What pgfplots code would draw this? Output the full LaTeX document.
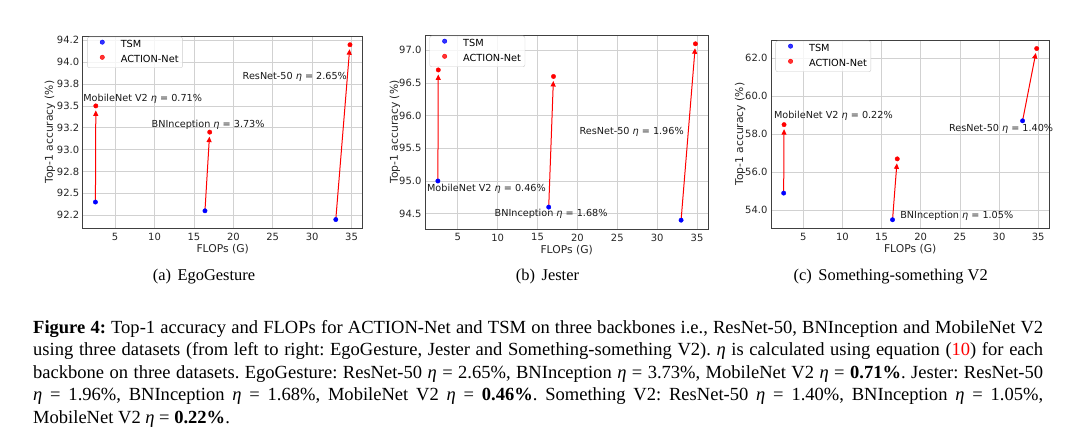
\documentclass[border=0pt]{standalone}
\usepackage{pgfplots}
\pgfplotsset{compat=1.18}
\usepackage{fontspec}
\setmainfont{Liberation Serif}
\newfontfamily\dejavu{DejaVu Sans}
\usetikzlibrary{arrows.meta}

\tikzset{ann/.style={font=\dejavu\fontsize{9.7}{11}\selectfont, inner sep=0pt, anchor=center, text=black!90}}
\pgfplotsset{
  myax/.style={
    scale only axis,
    clip=false,
    xmin=0.885, xmax=36.415,
    xtick={5,10,...,35},
    grid=major,
    major grid style={black!18, line width=0.7bp},
    axis line style={black!75, line width=0.8bp},
    major tick length=0pt,
    tick label style={font=\dejavu\fontsize{10}{12}\selectfont, text=black!85},
    /pgf/number format/assume math mode=true,
    xticklabel style={inner sep=0pt, anchor=north, yshift=-4.5bp},
    yticklabel style={inner sep=0pt, anchor=east, xshift=-3.4bp},
    label style={font=\dejavu\fontsize{10.8}{13}\selectfont, text=black!85},
    xlabel={FLOPs (G)},
    ylabel={Top-1 accuracy (\%)},
    xlabel style={at={(axis description cs:0.5,-0.11)}, anchor=center},
    legend style={at={(axis description cs:0.016,0.996)}, anchor=north west,
      draw=black!20, rounded corners=2bp, fill=white, fill opacity=0.8, text opacity=1, draw opacity=1,
      font=\dejavu\fontsize{9.8}{11}\selectfont, inner xsep=4bp, inner ysep=3bp,
      row sep=5.5bp,
      nodes={inner sep=0pt, text height=7.5bp, text depth=2bp}},
    legend cell align=left,
    legend image code/.code={\draw[##1] plot coordinates {(10.7bp,2.7bp)}; \path (0bp,0bp) (29bp,0bp);},
  },
  arr/.style={red, line width=1bp, -{Triangle[length=5.5bp,width=5bp]}, shorten >=4.5bp, forget plot},
  tsm/.style={only marks, mark=*, mark size=2.2bp, blue},
  act/.style={only marks, mark=*, mark size=2.2bp, red},
}

\begin{document}
\begin{tikzpicture}[x=1bp,y=1bp]
\useasboundingbox (0,0) rectangle (1080,442);

% ---------- (a) EgoGesture ----------
\begin{axis}[myax, at={(82.7bp,213.7bp)}, anchor=south west,
  width=280bp, height=192.3bp,
  ymin=92.1, ymax=94.3,
  ytick={92.25,92.5,92.75,93.0,93.25,93.5,93.75,94.0,94.25},
  yticklabels={92.2,92.5,92.8,93.0,93.2,93.5,93.8,94.0,94.2},
  ylabel style={at={(axis description cs:-0.117,0.5)}, anchor=center},
]
\addplot[arr] coordinates {(2.5,92.4) (2.55,93.5)};
\addplot[arr] coordinates {(16.4,92.3) (17.0,93.2)};
\addplot[arr] coordinates {(33.0,92.2) (34.8,94.2)};
\addplot[tsm] coordinates {(2.5,92.4) (16.4,92.3) (33.0,92.2)};
\addlegendentry{TSM}
\addplot[act] coordinates {(2.55,93.5) (17.0,93.2) (34.8,94.2)};
\addlegendentry{ACTION-Net}
\node[ann] at (axis cs:8.5,93.58) {MobileNet V2 \textit{η} = 0.71\%};
\node[ann] at (axis cs:16.8,93.28) {BNInception \textit{η} = 3.73\%};
\node[ann] at (axis cs:27.8,93.83) {ResNet-50 \textit{η} = 2.65\%};
\end{axis}

% ---------- (b) Jester ----------
\begin{axis}[myax, at={(425bp,213bp)}, anchor=south west,
  width=283.3bp, height=194bp,
  ymin=94.265, ymax=97.235,
  ytick={94.5,95.0,95.5,96.0,96.5,97.0},
  yticklabel style={/pgf/number format/.cd, fixed, fixed zerofill, precision=1},
  ylabel style={at={(axis description cs:-0.106,0.5)}, anchor=center},
]
\addplot[arr] coordinates {(2.5,95.0) (2.55,96.7)};
\addplot[arr] coordinates {(16.4,94.6) (17.0,96.6)};
\addplot[arr] coordinates {(33.0,94.4) (34.8,97.1)};
\addplot[tsm] coordinates {(2.5,95.0) (16.4,94.6) (33.0,94.4)};
\addlegendentry{TSM}
\addplot[act] coordinates {(2.55,96.7) (17.0,96.6) (34.8,97.1)};
\addlegendentry{ACTION-Net}
\node[ann] at (axis cs:8.59,94.88) {MobileNet V2 \textit{η} = 0.46\%};
\node[ann] at (axis cs:16.7,94.5) {BNInception \textit{η} = 1.68\%};
\node[ann] at (axis cs:26.8,95.75) {ResNet-50 \textit{η} = 1.96\%};
\end{axis}

% ---------- (c) Something-something V2 ----------
\begin{axis}[myax, at={(771bp,213.7bp)}, anchor=south west,
  width=278.3bp, height=188.3bp,
  ymin=53.05, ymax=62.95,
  ytick={54,56,58,60,62},
  yticklabel style={/pgf/number format/.cd, fixed, fixed zerofill, precision=1},
  ylabel style={at={(axis description cs:-0.111,0.5)}, anchor=center},
]
\addplot[arr] coordinates {(2.5,54.9) (2.55,58.5)};
\addplot[arr] coordinates {(16.4,53.5) (17.0,56.7)};
\addplot[arr] coordinates {(33.0,58.7) (34.8,62.5)};
\addplot[tsm] coordinates {(2.5,54.9) (16.4,53.5) (33.0,58.7)};
\addlegendentry{TSM}
\addplot[act] coordinates {(2.55,58.5) (17.0,56.7) (34.8,62.5)};
\addlegendentry{ACTION-Net}
\node[ann] at (axis cs:8.85,58.96) {MobileNet V2 \textit{η} = 0.22\%};
\node[ann] at (axis cs:24.6,53.70) {BNInception \textit{η} = 1.05\%};
\node[ann] at (axis cs:30.26,58.25) {ResNet-50 \textit{η} = 1.40\%};
\end{axis}

% ---------- sub-captions ----------
\node[font=\fontsize{16.5}{19}\selectfont, inner sep=0pt] at (204,165.3) {(a)\hspace{0.4em}EgoGesture};
\node[font=\fontsize{16.5}{19}\selectfont, inner sep=0pt] at (547.5,165.3) {(b)\hspace{0.4em}Jester};
\node[font=\fontsize{16.5}{19}\selectfont, inner sep=0pt] at (890.7,165.3) {(c)\hspace{0.4em}Something-something V2};

% ---------- caption ----------
\node[anchor=north west, inner sep=0pt, text width=1010bp, align=justify,
      font=\fontsize{18.6}{22.6}\selectfont\frenchspacing] at (33,122)
{\textbf{Figure 4:} Top-1 accuracy and FLOPs for ACTION-Net and TSM on three backbones i.e., ResNet-50, BNInception and MobileNet V2\linebreak
using three datasets (from left to right: EgoGesture, Jester and Something-something V2). \textit{η} is calculated using equation (\textcolor{red}{10}) for each\linebreak
backbone on three datasets. EgoGesture: ResNet-50 \textit{η}~=~2.65\%, BNInception \textit{η}~=~3.73\%, MobileNet V2 \textit{η}~=~\textbf{0.71\%}. Jester: ResNet-50\linebreak
\textit{η} = 1.96\%, BNInception \textit{η} = 1.68\%, MobileNet V2 \textit{η} = \textbf{0.46\%}. Something V2: ResNet-50 \textit{η} = 1.40\%, BNInception \textit{η} = 1.05\%,\linebreak
MobileNet V2 \textit{η}~=~\textbf{0.22\%}.\par};
\end{tikzpicture}
\end{document}
